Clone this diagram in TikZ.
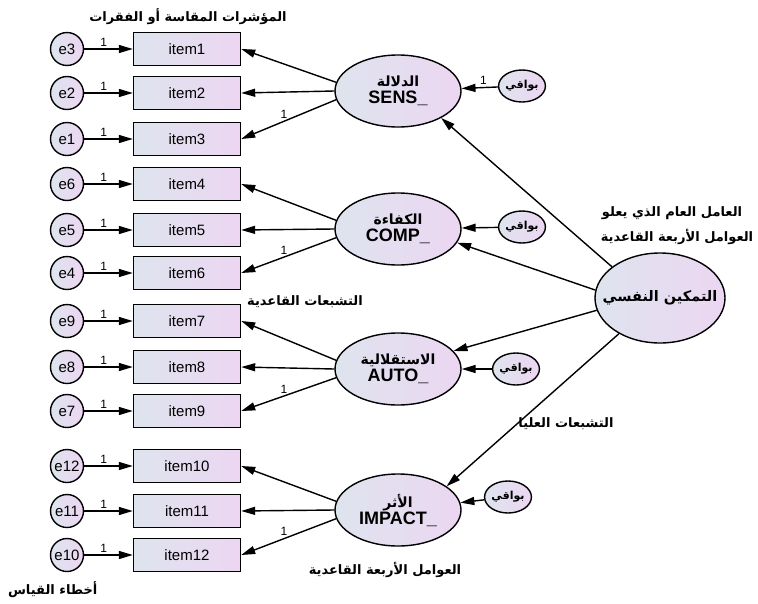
\documentclass[tikz,border=0pt]{standalone}
\usepackage{fontspec}
\setmainfont{Liberation Sans}
\newfontfamily\arabicfont[Script=Arabic]{DejaVu Sans}
\TeXXeTstate=1
\usetikzlibrary{arrows.meta,shapes.geometric}

\definecolor{amosleft}{RGB}{222,228,238}
\definecolor{amosright}{RGB}{236,214,242}
\newcommand{\artext}[1]{{\arabicfont\bfseries\beginR #1\endR}}

\begin{document}
\begin{tikzpicture}[x=1pt,y=-1pt,>={Triangle[length=14pt,width=8pt]},line width=1.4pt,
 grad/.style={left color=amosleft,right color=amosright},
 obsbox/.style={draw,grad,minimum width=107pt,minimum height=33pt,inner sep=0pt,font=\fontsize{15}{15}\selectfont},
 errnode/.style={draw,grad,circle,minimum size=33pt,inner sep=0pt,font=\fontsize{15}{15}\selectfont},
 latent/.style={draw,grad,ellipse,minimum width=126pt,minimum height=72pt,inner sep=0pt,align=center,font=\fontsize{14}{16}\selectfont},
 resid/.style={draw,grad,ellipse,minimum width=46pt,minimum height=32pt,inner sep=0pt,font=\fontsize{11}{11}\selectfont},
 one/.style={font=\fontsize{12}{12}\selectfont,inner sep=2pt},
 note/.style={font=\fontsize{13}{15}\selectfont}]
\useasboundingbox (0,0) rectangle (758,603);
% observed items and their errors
\foreach \n/\e/\y in {1/3/49,2/2/93,3/1/139,4/6/184,5/5/230,6/4/273,7/9/321,8/8/367,9/7/411,10/12/466,11/11/511,12/10/555}
 { \node[obsbox] (item\n) at (187,\y) {item\n};
   \node[errnode] (e\e) at (67,\y) {e\e};
   \draw[->] (e\e) -- (item\n) node[one,pos=0.4,above]{1}; }
% first-order factors
\foreach \f/\nm/\lat/\y/\i in {sens/{الدلالة}/SENS/91/1,comp/{الكفاءة}/COMP/229/4,auto/{الاستقلالية}/AUTO/369/7,impact/{الأثر}/IMPACT/510/10}
 { \pgfmathtruncatemacro\j{\i+1} \pgfmathtruncatemacro\k{\i+2}
   \node[latent] (\f) at (398,\y) {\artext{\nm}\\[1pt]{\fontsize{18}{18}\selectfont\bfseries \lat\_}};
   \draw[->] (\f.172) -- (item\i.east);
   \draw[->] (\f.west) -- (item\j.east);
   \draw[->] (\f.188) -- (item\k.east) node[one,pos=0.55,above]{1}; }
% residuals
\foreach \f/\x/\y/\w in {sens/522/86/1,comp/522/227/{},auto/516/369/{},impact/508/497/{}}
 { \node[resid] (res\f) at (\x,\y) {\artext{بواقي}};
   \draw[->] (res\f) -- (\f) node[one,pos=0.4,above]{\w}; }
% second-order factor
\node[latent,minimum width=130pt,minimum height=90pt,inner xsep=-12pt,font=\fontsize{14.5}{16}\selectfont] (top) at (660,298) {\artext{التمكين النفسي}};
\draw[->] (top.147) -- (sens.-32);
\draw[->] (top.173) -- (comp.-13);
\draw[->] (top.191) -- (auto.18);
\draw[->] (top.221) -- (impact.26);
% captions
\node[note] (lblitems) at (188,17) {\artext{المؤشرات المقاسة أو الفقرات}};
\node[note] (lblgen1) at (672,213) {\artext{العامل العام الذي يعلو}};
\node[note] (lblgen2) at (677,237) {\artext{العوامل الأربعة القاعدية}};
\node[note] (lblbase) at (305,302) {\artext{التشبعات القاعدية}};
\node[note] (lblhigh) at (566,424) {\artext{التشبعات العليا}};
\node[note] (lblfour) at (385,570) {\artext{العوامل الأربعة القاعدية}};
\node[note,anchor=west] (lblerr) at (4,590) {\artext{أخطاء القياس}};
\end{tikzpicture}
\end{document}
